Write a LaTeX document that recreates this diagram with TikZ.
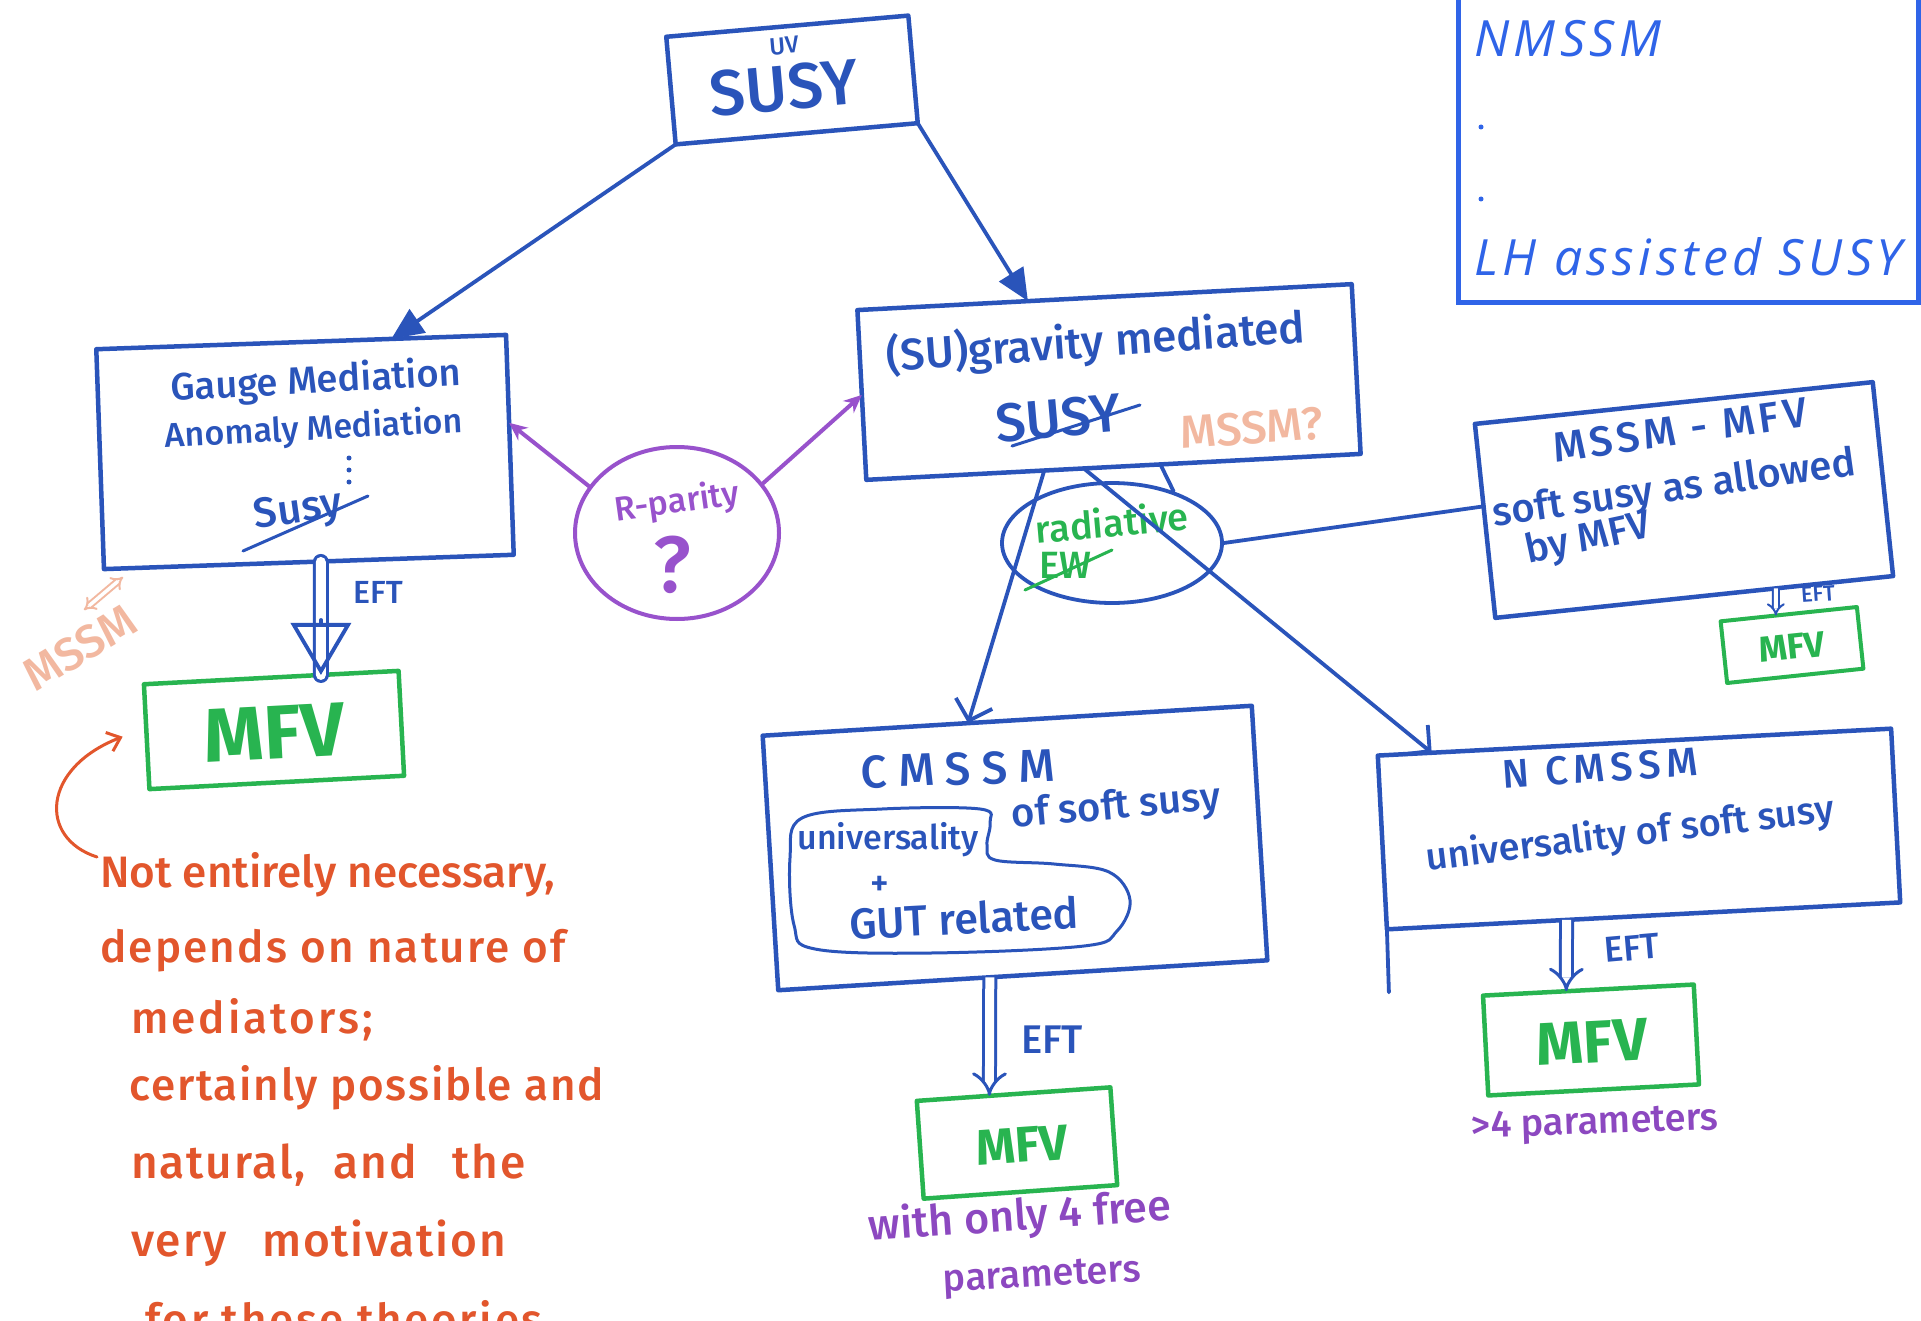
\documentclass[tikz,border=0pt]{standalone}
\usepackage{fontspec}
\setmainfont{Fira Sans}[UprightFont={* Medium},BoldFont={* Bold}]
\newfontfamily\typed{Open Sans}
\usetikzlibrary{arrows.meta,shapes.geometric,calc}
\definecolor{ink}{RGB}{42,84,186}
\definecolor{mgreen}{RGB}{40,180,80}
\definecolor{rpurple}{RGB}{152,82,204}
\definecolor{tpurple}{RGB}{140,72,192}
\definecolor{rorange}{RGB}{226,86,44}
\definecolor{salmon}{RGB}{242,184,160}
\definecolor{tblue}{RGB}{47,100,232}
\newcommand\fs[1]{\fontsize{#1}{#1}\selectfont}
\newcommand\ls[1]{\addfontfeatures{LetterSpace=#1}}
\begin{document}
\begin{tikzpicture}[x=1pt,y=-1pt,
  box/.style={draw=ink,line width=4.5pt,line join=round,rectangle,inner sep=0pt,outer sep=0pt},
  gbox/.style={draw=mgreen,line width=4.5pt,line join=round,rectangle,inner sep=0pt,outer sep=0pt},
  hand/.style={text=ink,inner sep=0pt},
  mfvtext/.style={text=mgreen,inner sep=0pt},
  ptext/.style={text=tpurple,inner sep=0pt},
  note/.style={text=rorange,inner sep=0pt,anchor=base west},
  typedtext/.style={text=tblue,inner sep=0pt,anchor=base west,font=\typed\itshape\fs{50}\ls{9}},
  link/.style={draw=ink,line width=3.8pt,line cap=round},
  tri/.style={link,-{Triangle[length=32pt,width=28pt]}},
  barb/.style={link,-{Straight Barb[length=18pt,width=38pt]}},
  eft/.style={draw=ink,line width=3pt,double=white,double distance=9pt,-{Implies}},
  eftsmall/.style={draw=ink,line width=2pt,double=white,double distance=4pt,-{Implies}},
  rlink/.style={draw=rpurple,line width=4pt,line cap=round,-{Stealth[length=18pt,width=16pt]}},
  slash/.style={draw=ink,line width=3pt,line cap=round},
]
\fill[white] (0,0) rectangle (1921,1321);
\useasboundingbox (0,0) rectangle (1921,1321);

% ---------- boxes ----------
\node[box,minimum width=243pt,minimum height=108pt,rotate=5] (susy) at (792,80) {};
\node[box,minimum width=410pt,minimum height=220pt,rotate=2] (gauge) at (305,452) {};
\node[gbox,minimum width=255pt,minimum height=105pt,rotate=3] (mfvL) at (274,730) {};
\node[draw=rpurple,line width=4pt,ellipse,minimum width=204pt,minimum height=172pt,inner sep=0pt] (rpar) at (677,533) {};
\node[box,minimum width=495pt,minimum height=170pt,rotate=3] (gravity) at (1109,382) {};
\node[draw=ink,line width=3.8pt,ellipse,minimum width=220pt,minimum height=120pt,inner sep=0pt] (rad) at (1112,543) {};
\node[box,minimum width=400pt,minimum height=195pt,rotate=6] (mssmmfv) at (1684,500) {};
\node[gbox,line width=4pt,minimum width=137pt,minimum height=62pt,rotate=6] (mfvS) at (1792,645) {};
\node[box,minimum width=490pt,minimum height=255pt,rotate=3.5] (cmssm) at (1015,848) {};
\node[gbox,minimum width=194pt,minimum height=98pt,rotate=4] (mfvC) at (1017,1143) {};
\node[box,minimum width=514pt,minimum height=174pt,rotate=3] (ncmssm) at (1639,829) {};
\node[gbox,minimum width=211pt,minimum height=100pt,rotate=3] (mfvN) at (1591,1040) {};
\node[draw=tblue,line width=5pt,minimum width=460pt,minimum height=330pt,inner sep=0pt] (nmssm) at (1688,138) {};

% ---------- texts ----------
\node[hand,font=\fs{64},rotate=5] (susyt) at (784,88) {SUSY};
\node[hand,font=\fs{24},rotate=5] (uv) at (784,46) {UV};

\node[hand,font=\fs{38},rotate=3] (gm) at (316,382) {Gauge Mediation};
\node[hand,font=\fs{34},rotate=3] (am) at (314,430) {Anomaly Mediation};
\foreach \yy in {458,470,482} \fill[ink] (349,\yy) circle (2.5pt);
\node[hand,font=\fs{42},rotate=8] (gsusy) at (298,512) {Susy};
\draw[slash] (243,551) -- (368,496);

\node[mfvtext,font=\bfseries\fs{76},rotate=3] (mfvLt) at (274,733) {MFV};
\node[hand,font=\fs{32}] (eftL) at (378,592) {EFT};

\node[text=rpurple,inner sep=0pt,font=\fs{34},rotate=8] (rpt) at (677,503) {R-parity};
\node[text=rpurple,inner sep=0pt,font=\fs{80}] (rpq) at (672,565) {?};

\node[hand,font=\fs{44},rotate=4] (gravt) at (1096,343) {(SU)gravity mediated};
\node[hand,font=\fs{54},rotate=5] (gravs) at (1058,418) {SUSY};
\draw[slash] (1012,446) -- (1140,405);
\node[text=salmon,inner sep=0pt,font=\fs{46},rotate=4] (mssmq) at (1252,428) {MSSM?};

\node[text=mgreen,inner sep=0pt,font=\fs{38},rotate=5] (radt) at (1112,522) {radiative};
\node[text=mgreen,inner sep=0pt,font=\fs{38}] (ew) at (1065,565) {EW};
\draw[draw=mgreen,line width=3pt,line cap=round] (1025,590) -- (1112,550);

\node[hand,font=\fs{42}\ls{10},rotate=8] (mmt1) at (1680,430) {MSSM - MFV};
\node[hand,font=\fs{40},rotate=8] (mmt2) at (1674,490) {soft susy as allowed};
\node[hand,font=\fs{40},rotate=12] (mmt3) at (1588,540) {by MFV};
\node[mfvtext,font=\bfseries\fs{36},rotate=6] (mfvSt) at (1792,647) {MFV};
\node[hand,font=\fs{22},rotate=4] (eftS) at (1818,594) {EFT};

\node[hand,font=\fs{46}\ls{25},rotate=2] (cmt) at (958,769) {CMSSM};
\node[hand,font=\fs{34}] (cuni) at (888,840) {universality};
\node[hand,font=\fs{40},rotate=5] (csoft) at (1116,808) {of soft susy};
\node[hand,font=\fs{36}] (cplus) at (880,886) {+};
\node[hand,font=\fs{43},rotate=3] (cgut) at (964,918) {GUT related};
\draw[link,line width=3pt] plot[smooth cycle,tension=0.6] coordinates
  {(802,818) (882,809) (980,809) (990,823) (987,845) (995,860) (1054,864) (1109,872)
   (1130,900) (1117,931) (1084,946) (931,953) (815,949) (794,925) (790,858)};
\node[mfvtext,font=\bfseries\fs{50},rotate=4] (mfvCt) at (1022,1145) {MFV};
\node[hand,font=\fs{40}] (eftC) at (1052,1040) {EFT};
\node[ptext,font=\fs{43},rotate=4] (pt1) at (1020,1218) {with only 4 free};
\node[ptext,font=\fs{38},rotate=3] (pt2) at (1042,1278) {parameters};

\node[hand,font=\fs{40}\ls{15},rotate=4] (nct) at (1600,768) {N CMSSM};
\node[hand,font=\fs{38},rotate=7] (nuni) at (1630,835) {universality of soft susy};
\draw[link] (ncmssm.south west) -- ++(2,63);
\node[mfvtext,font=\bfseries\fs{60},rotate=3] (mfvNt) at (1592,1042) {MFV};
\node[hand,font=\fs{36},rotate=5] (eftN) at (1632,948) {EFT};
\node[ptext,font=\fs{38},rotate=2] (pt3) at (1595,1125) {>4 parameters};

\node[typedtext] (nm1) at (1474,57) {NMSSM};
\fill[tblue] (1481,127) circle (2.5pt);
\fill[tblue] (1481,199) circle (2.5pt);
\node[typedtext] (nm2) at (1474,276) {LH assisted SUSY};

\node[note,font=\fs{44}] (n1) at (100,887) {Not entirely necessary,};
\node[note,font=\fs{44}\ls{5}] (n2) at (100,962) {depends on nature of};
\node[note,font=\fs{44}\ls{7}] (n3) at (131,1033) {mediators;};
\node[note,font=\fs{44}\ls{4}] (n4) at (129,1100) {certainly possible and};
\node[note,font=\fs{46}\ls{4}] (n5) at (131,1178) {natural,\hspace{28pt}and\hspace{36pt}the};
\node[note,font=\fs{46}\ls{4}] (n6) at (131,1256) {very\hspace{36pt}motivation};
\node[note,font=\fs{44}\ls{6}] (n7) at (145,1335) {for these theories};

\node[text=salmon,inner sep=0pt,font=\fs{46},rotate=31] (msL) at (80,648) {MSSM};
\coordinate (ms1) at (84,610);
\coordinate (ms2) at (123,577);
\draw[salmon,line width=2pt,double=white,double distance=3.5pt,{Implies}-{Implies}] (ms1) -- (ms2);

% ---------- connectors ----------
\draw[tri] (susy.south west) -- ($(gauge.north)!0.44!(gauge.north east)$);
\draw[tri] (susy.south east) -- ($(gravity.north)!0.31!(gravity.north west)$);
\draw[rlink] (rpar.152) -- ($(gauge.east)!0.2!(gauge.north east)$);
\draw[rlink] (rpar.30) -- (gravity.west);

\draw[link,line width=3pt,double=white,double distance=10pt] ([xshift=12pt]gauge.south) -- ($(mfvL.north)!0.39!(mfvL.north east)$);
\draw[link,-{Triangle[open,length=52pt,width=60pt]}] ($(mfvL.north)!0.39!(mfvL.north east)+(0,-55)$) -- ($(mfvL.north)!0.39!(mfvL.north east)$);

\draw[barb] ($(gravity.south)!0.28!(gravity.south west)$) -- ($(cmssm.north)!0.16!(cmssm.north west)$);
\draw[barb] ($(gravity.south)!0.12!(gravity.south west)$) -- ($(ncmssm.north west)!0.21!(ncmssm.north)$);
\draw[link] ($(gravity.south)!0.19!(gravity.south east)$) -- (rad.40);
\draw[link] (rad.east) -- ($(mssmmfv.west)!0.15!(mssmmfv.north west)$);

\draw[eftsmall] ($(mssmmfv.south)!0.41!(mssmmfv.south east)$) -- ($(mfvS.north)!0.19!(mfvS.north west)$);
\draw[eft] ($(cmssm.south)!0.135!(cmssm.south west)$) -- ($(mfvC.north)!0.25!(mfvC.north west)$);
\draw[eft] ($(ncmssm.south)!0.30!(ncmssm.south west)$) -- ($(mfvN.north)!0.21!(mfvN.north west)$);

\coordinate (curlA) at (97,857);
\draw[rorange,line width=3pt,line cap=round,-{Straight Barb[length=12pt,width=20pt]}] (curlA) .. controls (38,838) and (42,768) .. ([xshift=-24pt]mfvL.west);
\end{tikzpicture}
\end{document}
